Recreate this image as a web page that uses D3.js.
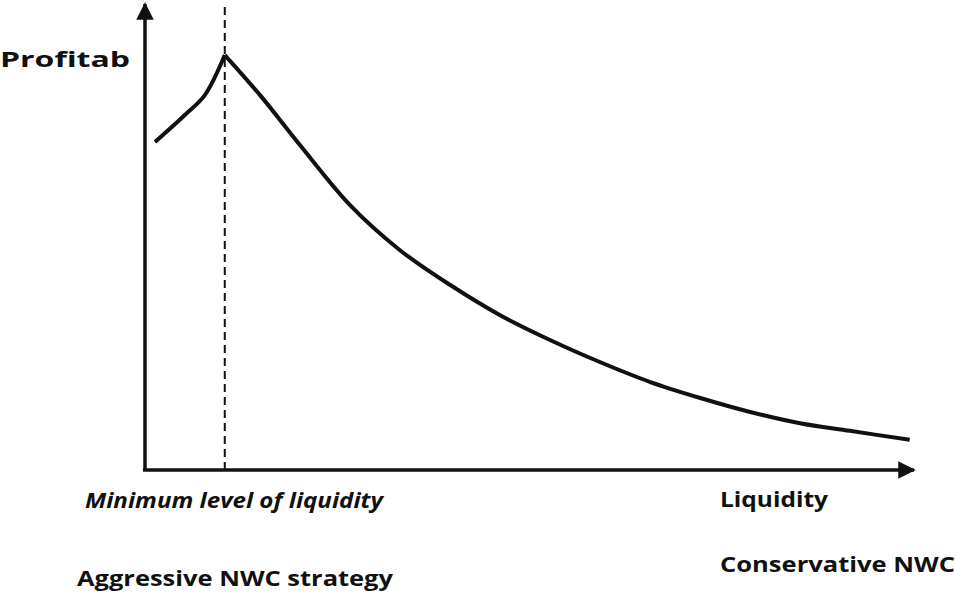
<!DOCTYPE html>
<html><head><meta charset="utf-8">
<script src="https://cdn.jsdelivr.net/npm/d3@7"></script>
<style>body{margin:0;background:#fff}text{font-family:"Open Sans",sans-serif;font-weight:bold;fill:#111}</style>
</head><body><svg id="c" width="955" height="593"></svg>
<script>
const riseX=[1.3,5.2,7.8,10.4];
const riseY=[72.9,78.9,83.3,92.2];
const fallX=[10.4,15,20.2,26.7,33.2,39.8,46.3,52.8,59.3,65.8,72.4,78.9,85.4,91.9,99.7];
const fallY=[92.2,83.3,72.2,58.9,48.9,41.1,34.4,28.9,24,19.6,16,12.9,10.4,8.7,6.7];
const minLiquidity=10.4;
const labels={y:"Profitab",min:"Minimum level of liquidity",x:"Liquidity",agg:"Aggressive NWC strategy",cons:"Conservative NWC"};

const svg=d3.select("#c");
const x=d3.scaleLinear().domain([0,100]).range([145,912]);
const y=d3.scaleLinear().domain([0,100]).range([470,20]);
svg.append("defs").append("marker").attr("id","ar").attr("viewBox","0 0 10 10").attr("refX",9).attr("refY",5)
 .attr("markerWidth",5).attr("markerHeight",5).attr("markerUnits","strokeWidth").attr("orient","auto")
 .append("path").attr("d","M0,0L10,5L0,10z").attr("fill","#111");
svg.append("line").attr("x1",x(0)).attr("y1",y(0)).attr("x2",x(0)).attr("y2",4).attr("stroke","#111").attr("stroke-width",3.5).attr("marker-end","url(#ar)");
svg.append("line").attr("x1",x(0)-2).attr("y1",y(0)).attr("x2",914).attr("y2",y(0)).attr("stroke","#111").attr("stroke-width",3.5).attr("marker-end","url(#ar)");
svg.append("line").attr("x1",x(minLiquidity)).attr("x2",x(minLiquidity)).attr("y1",y(0)).attr("y2",6).attr("stroke","#111").attr("stroke-width",2).attr("stroke-dasharray","8,5");
const ln=d3.line().curve(d3.curveCatmullRom.alpha(0.5)).x(d=>x(d[0])).y(d=>y(d[1]));
[[riseX,riseY],[fallX,fallY]].forEach(([a,b])=>svg.append("path").attr("d",ln(a.map((v,i)=>[v,b[i]])))
 .attr("fill","none").attr("stroke","#111").attr("stroke-width",4).attr("stroke-linejoin","miter"));
function t(xx,yy,s,w,it){const e=svg.append("text").attr("x",xx).attr("y",yy).attr("font-size",21).attr("textLength",w).attr("lengthAdjust","spacingAndGlyphs").text(s);if(it)e.attr("font-style","italic");}
t(0,67,labels.y,130);
t(85,508,labels.min,298,true);
t(720,507,labels.x,108);
t(77,586,labels.agg,316);
t(720,572,labels.cons,235);
</script></body></html>
